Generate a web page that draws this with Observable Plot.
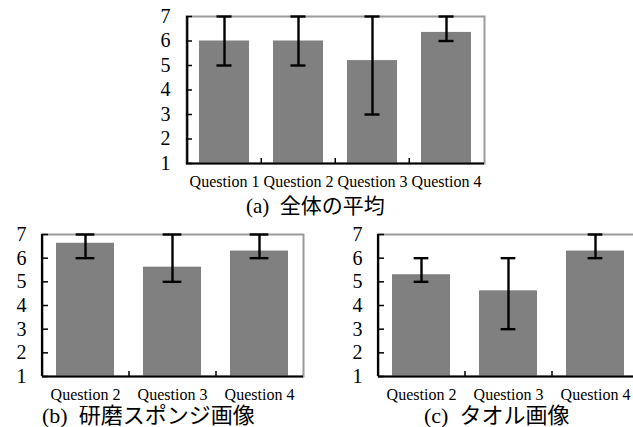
<!DOCTYPE html>
<html>
<head>
<meta charset="utf-8">
<script src="https://cdn.jsdelivr.net/npm/d3@7"></script>
<script src="https://cdn.jsdelivr.net/npm/@observablehq/plot@0.6"></script>
<style>
  html, body { margin: 0; padding: 0; background: #fff; }
  #wrap { position: relative; width: 633px; height: 427px; overflow: hidden; background: #fff; }
  #wrap > svg { position: absolute; }
  .cap { position: absolute; white-space: pre; font-family: "Liberation Serif", "Noto Sans CJK JP", serif; color: #000; line-height: 0.8; }
</style>
</head>
<body>
<div id="wrap"></div>
<script>
// ---- data ----
const yTicks = [1, 2, 3, 4, 5, 6, 7];

const catsA = ["Question 1", "Question 2", "Question 3", "Question 4"];
const meanA = [6.0, 6.0, 5.2, 6.35];
const loA   = [5, 5, 3, 6];
const hiA   = [7, 7, 7, 7];
const captionA = "(a)  全体の平均";

const catsB = ["Question 2", "Question 3", "Question 4"];
const meanB = [6.63, 5.62, 6.3];
const loB   = [6, 5, 6];
const hiB   = [7, 7, 7];
const captionB = "(b)  研磨スポンジ画像";

const catsC = ["Question 2", "Question 3", "Question 4"];
const meanC = [5.3, 4.62, 6.3];
const loC   = [5, 3, 6];
const hiC   = [6, 6, 7];
const captionC = "(c)  タオル画像";

// ---- drawing ----
const wrap = document.getElementById("wrap");

function panel(cats, mean, lo, hi, o) {
  const data = cats.map((c, i) => ({c, m: mean[i], lo: lo[i], hi: hi[i]}));
  const fw = o.width - o.ml - o.mr;
  const fh = o.height - o.mt - o.mb;
  const step = fw / cats.length;
  const padIn = 0.33;
  const bw = step * (1 - padIn);
  const capInset = (bw - o.cap) / 2;
  const svg = Plot.plot({
    width: o.width, height: o.height,
    marginLeft: o.ml, marginRight: o.mr, marginTop: o.mt, marginBottom: o.mb,
    style: {fontFamily: "'Liberation Serif', 'Times New Roman', serif", background: "transparent", color: "#000", overflow: "visible"},
    x: {domain: cats, paddingInner: padIn, paddingOuter: padIn / 2, label: null},
    y: {domain: [1, 7], label: null},
    marks: [
      Plot.barY(data, {x: "c", y1: 1, y2: "m", fill: "#808080"}),
      Plot.frame({stroke: "#9a9a9a", strokeWidth: 2}),
      Plot.ruleY([1], {stroke: "#000", strokeWidth: 2.2}),
      Plot.ruleX([cats[0]], {dx: -step / 2, stroke: "#000", strokeWidth: 2.2}),
      Plot.ruleY(yTicks, {insetRight: fw - 6, stroke: "#000", strokeWidth: 1.5}),
      Plot.ruleX(cats.slice(1), {dx: -step / 2, insetTop: fh - 5, stroke: "#000", strokeWidth: 1.5}),
      Plot.ruleX(data, {x: "c", y1: "lo", y2: "hi", stroke: "#000", strokeWidth: 2.4}),
      Plot.tickY(data, {x: "c", y: "lo", insetLeft: capInset, insetRight: capInset, stroke: "#000", strokeWidth: 2.4}),
      Plot.tickY(data, {x: "c", y: "hi", insetLeft: capInset, insetRight: capInset, stroke: "#000", strokeWidth: 2.4}),
      Plot.axisY({ticks: yTicks, tickSize: 0, tickPadding: 16, fontSize: 20, tickFormat: d => String(d)}),
      Plot.axisX({tickSize: 0, tickPadding: 12, fontSize: 16})
    ]
  });
  svg.style.left = o.left + "px";
  svg.style.top = o.top + "px";
  wrap.appendChild(svg);
}

function caption(text, left, baseline, size) {
  const d = document.createElement("div");
  d.className = "cap";
  d.textContent = text;
  d.style.fontSize = size + "px";
  d.style.left = left + "px";
  d.style.top = (baseline - size * 0.7375) + "px";
  wrap.appendChild(d);
}

panel(catsA, meanA, loA, hiA, {left: 150, top: 0, width: 350, height: 195, ml: 36, mr: 16, mt: 16, mb: 32, cap: 15});
panel(catsB, meanB, loB, hiB, {left: 0, top: 215, width: 320, height: 195, ml: 42, mr: 17, mt: 19, mb: 34, cap: 19});
panel(catsC, meanC, loC, hiC, {left: 320, top: 215, width: 322, height: 195, ml: 58, mr: 3, mt: 19, mb: 34, cap: 15});

caption(captionA, 246, 213, 21);
caption(captionB, 42, 423, 22);
caption(captionC, 424, 423, 22);
</script>
</body>
</html>
